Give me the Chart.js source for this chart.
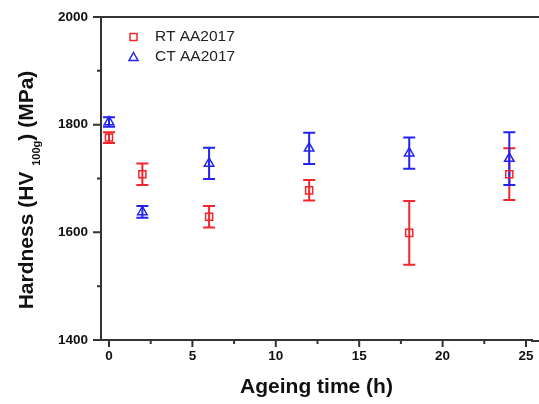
<!DOCTYPE html>
<html>
<head>
<meta charset="utf-8">
<script src="https://cdn.jsdelivr.net/npm/chart.js@4.4.0/dist/chart.umd.min.js"></script>
<style>
body { margin: 0; background: #fff; }
</style>
</head>
<body>
<canvas id="grafico-dureza" width="539" height="404"></canvas>
<script>
const tiempos = [0, 2, 6, 12, 18, 24];
const durezaRT = [1776, 1708, 1629, 1678, 1599, 1708];
const errorRT = [10, 20, 20, 19, 59, 48];
const durezaCT = [1805, 1638, 1728, 1756, 1747, 1737];
const errorCT = [9, 11, 29, 29, 29, 49];
const ticksX = [0, 5, 10, 15, 20, 25];
const ticksY = [1400, 1600, 1800, 2000];
const etiquetas = ['RT AA2017', 'CT AA2017'];

const fuente = "'Liberation Sans', Arial, sans-serif";
const rojo = '#f5262b';
const azul = '#2323f0';
const gris = '#333';

const barrasError = {
    id: 'barrasError',
    beforeDatasetsDraw(chart) {
        const ctx = chart.ctx;
        const x = chart.scales.x;
        const y = chart.scales.y;
        chart.data.datasets.forEach((ds) => {
            ctx.save();
            ctx.strokeStyle = ds.borderColor;
            ctx.lineWidth = 2;
            ds.data.forEach((p, i) => {
                const px = x.getPixelForValue(p.x);
                const arriba = y.getPixelForValue(p.y + ds.errores[i]);
                const abajo = y.getPixelForValue(p.y - ds.errores[i]);
                ctx.beginPath();
                ctx.moveTo(px, arriba);
                ctx.lineTo(px, abajo);
                ctx.moveTo(px - 6, arriba);
                ctx.lineTo(px + 6, arriba);
                ctx.moveTo(px - 6, abajo);
                ctx.lineTo(px + 6, abajo);
                ctx.stroke();
            });
            ctx.restore();
        });
    }
};

const marcas = {
    id: 'marcas',
    afterDraw(chart) {
        const ctx = chart.ctx;
        const area = chart.chartArea;
        const x = chart.scales.x;
        const y = chart.scales.y;
        ctx.save();
        ctx.strokeStyle = gris;
        ctx.lineWidth = 2;
        ctx.beginPath();
        for (let v = 1400; v <= 2000; v += 100) {
            const py = y.getPixelForValue(v);
            const largo = ticksY.includes(v) ? 8 : 4;
            ctx.moveTo(area.left - largo, py);
            ctx.lineTo(area.left, py);
        }
        for (let v = 0; v <= 25; v += 2.5) {
            const px = x.getPixelForValue(v);
            const largo = ticksX.includes(v) ? 7 : 4;
            ctx.moveTo(px, area.bottom);
            ctx.lineTo(px, area.bottom + largo);
        }
        // bordes hasta el final del lienzo
        ctx.moveTo(area.left, area.top);
        ctx.lineTo(chart.width, area.top);
        ctx.moveTo(area.right - 1, area.bottom + 1);
        ctx.lineTo(chart.width, area.bottom + 1);
        ctx.stroke();

        // titulo eje y con subindice
        ctx.fillStyle = '#111';
        const p1 = 'Hardness (HV ';
        const sub = '100g';
        const p3 = ') (MPa)';
        ctx.font = 'bold 21px ' + fuente;
        const w1 = ctx.measureText(p1).width;
        const w3 = ctx.measureText(p3).width;
        ctx.font = 'bold 11px ' + fuente;
        const w2 = ctx.measureText(sub).width;
        const total = w1 + w2 + w3;
        ctx.translate(33, 190);
        ctx.rotate(-Math.PI / 2);
        ctx.textBaseline = 'alphabetic';
        ctx.textAlign = 'left';
        ctx.font = 'bold 21px ' + fuente;
        ctx.fillText(p1, -total / 2, 0);
        ctx.font = 'bold 11px ' + fuente;
        ctx.fillText(sub, -total / 2 + w1, 7);
        ctx.font = 'bold 21px ' + fuente;
        ctx.fillText(p3, -total / 2 + w1 + w2, 0);
        ctx.restore();

        // leyenda
        ctx.save();
        ctx.lineWidth = 1.5;
        ctx.strokeStyle = rojo;
        ctx.strokeRect(130, 33.5, 7, 7);
        ctx.strokeStyle = azul;
        ctx.beginPath();
        ctx.moveTo(133.5, 52.5);
        ctx.lineTo(138, 60.5);
        ctx.lineTo(129, 60.5);
        ctx.closePath();
        ctx.stroke();
        ctx.fillStyle = '#222';
        ctx.font = '15.5px ' + fuente;
        ctx.textBaseline = 'middle';
        ctx.fillText(etiquetas[0], 155, 37);
        ctx.fillText(etiquetas[1], 155, 57);
        ctx.restore();
    }
};

const grafico = document.querySelector('#grafico-dureza');

new Chart(grafico, {
    type: 'scatter',
    data: {
        datasets: [{
            label: etiquetas[0],
            data: tiempos.map((t, i) => ({ x: t, y: durezaRT[i] })),
            errores: errorRT,
            borderColor: rojo,
            backgroundColor: 'transparent',
            pointStyle: 'rect',
            pointRadius: 5,
            pointBorderWidth: 1.5
        }, {
            label: etiquetas[1],
            data: tiempos.map((t, i) => ({ x: t, y: durezaCT[i] })),
            errores: errorCT,
            borderColor: azul,
            backgroundColor: 'transparent',
            pointStyle: 'triangle',
            pointRadius: 5.5,
            pointBorderWidth: 1.5
        }]
    },
    options: {
        responsive: false,
        animation: false,
        layout: { padding: { top: 17, right: 0, left: 0, bottom: 0 } },
        plugins: {
            legend: { display: false },
            tooltip: { enabled: false }
        },
        scales: {
            x: {
                type: 'linear',
                min: -0.48,
                max: 25.36,
                border: { display: true, color: gris, width: 2 },
                grid: { display: true, drawOnChartArea: false, color: 'transparent', tickLength: 7 },
                ticks: {
                    stepSize: 2.5,
                    includeBounds: false,
                    autoSkip: false,
                    maxRotation: 0,
                    padding: 1,
                    color: '#111',
                    font: { family: fuente, size: 13.5, weight: 'bold' },
                    callback: (v) => ticksX.includes(v) ? String(v) : ''
                },
                title: {
                    display: true,
                    text: 'Ageing time (h)',
                    color: '#111',
                    font: { family: fuente, size: 21, weight: 'bold' },
                    padding: { top: 0, bottom: 4 }
                },
                afterFit(s) { s.height = 64; }
            },
            y: {
                min: 1400,
                max: 2000,
                border: { display: true, color: gris, width: 2 },
                grid: { display: true, drawOnChartArea: false, color: 'transparent', tickLength: 8 },
                ticks: {
                    stepSize: 100,
                    autoSkip: false,
                    padding: 5,
                    color: '#111',
                    font: { family: fuente, size: 13.5, weight: 'bold' },
                    callback: (v) => ticksY.includes(v) ? String(v) : ''
                },
                afterFit(s) { s.width = 101; }
            }
        }
    },
    plugins: [barrasError, marcas]
});
</script>
</body>
</html>
